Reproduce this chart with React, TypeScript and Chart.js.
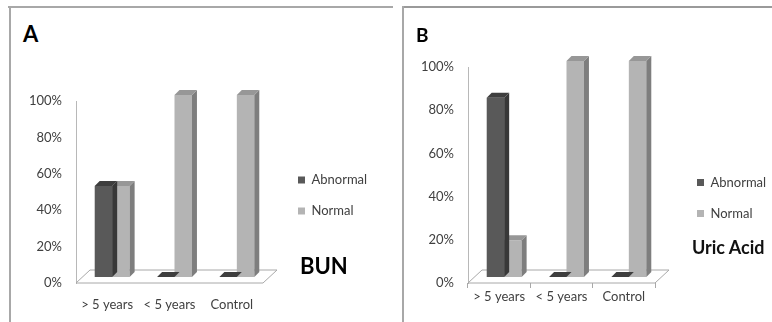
import React, { useEffect, useRef } from "react";
import { Chart, registerables } from "chart.js";

Chart.register(...registerables);

// ---------- data ----------
const categories = ["> 5 years", "< 5 years", "Control"];
const seriesNames = ["Abnormal", "Normal"];
const bunAbnormal = [50, 0, 0];
const bunNormal = [50, 100, 100];
const uricAbnormal = [83, 0, 0];
const uricNormal = [17, 100, 100];
const yTicks = [0, 20, 40, 60, 80, 100];

// ---------- styles ----------
const FONT = "Lato, 'Open Sans', sans-serif";
const frontColors = ["#595959", "#b4b4b4"];
const topColors = ["#3e3e3e", "#979797"];
const sideColors = ["#383838", "#7e7e7e"];
const textColor = "#404040";
const lineGray = "#a8a8a8";

const bar3dPlugin = {
  id: "bar3d",
  beforeDatasetsDraw(chart: any, _args: any, opts: any) {
    const { ctx, chartArea: a } = chart;
    const y0 = chart.scales.y.getPixelForValue(0);
    const [fx, fy] = opts.floorDepth;
    ctx.save();
    ctx.beginPath();
    ctx.moveTo(a.left, y0);
    ctx.lineTo(a.right, y0);
    ctx.lineTo(a.right + fx, y0 + fy);
    ctx.lineTo(a.left + fx, y0 + fy);
    ctx.closePath();
    ctx.fillStyle = "#ffffff";
    ctx.fill();
    ctx.strokeStyle = opts.floorColor;
    ctx.lineWidth = 1;
    ctx.stroke();
    ctx.restore();
    ctx.save();
    ctx.translate(opts.shift[0], opts.shift[1]);
  },
  afterDatasetDraw(chart: any, args: any, opts: any) {
    const { ctx } = chart;
    const i = args.index;
    const [dx, dy] = opts.depth;
    args.meta.data.forEach((bar: any) => {
      const { x, y, base, width } = bar.getProps(["x", "y", "base", "width"], true);
      const l = x - width / 2;
      const r = x + width / 2;
      if (base - y > 0.5) {
        ctx.fillStyle = opts.sideColors[i];
        ctx.beginPath();
        ctx.moveTo(r, y);
        ctx.lineTo(r + dx, y + dy);
        ctx.lineTo(r + dx, base + dy);
        ctx.lineTo(r, base);
        ctx.closePath();
        ctx.fill();
      }
      ctx.fillStyle = opts.topColors[i];
      ctx.beginPath();
      ctx.moveTo(l, y);
      ctx.lineTo(l + dx, y + dy);
      ctx.lineTo(r + dx, y + dy);
      ctx.lineTo(r, y);
      ctx.closePath();
      ctx.fill();
    });
  },
  afterDatasetsDraw(chart: any) {
    chart.ctx.restore();
  },
};

type PanelCfg = {
  left: number;
  top: number;
  w: number;
  h: number;
  abnormal: number[];
  normal: number[];
  yAxisWidth: number;
  xAxisHeight: number;
  padTop: number;
  spacer: number;
  legendWidth: number;
  legendShift: number;
  xTicks: boolean;
};

function makeConfig(c: PanelCfg): any {
  const series = [c.abnormal, c.normal];
  return {
    type: "bar",
    data: {
      labels: categories,
      datasets: seriesNames.map((name, i) => ({
        label: name,
        data: series[i],
        backgroundColor: frontColors[i],
        borderWidth: 0,
        categoryPercentage: 0.56,
        barPercentage: 1,
        clip: false,
        yAxisID: "y",
      })),
    },
    options: {
      responsive: false,
      animation: false,
      devicePixelRatio: 1,
      layout: { padding: { top: c.padTop, left: 0, right: 0, bottom: 0 } },
      scales: {
        x: {
          grid: {
            display: c.xTicks,
            drawOnChartArea: false,
            drawTicks: c.xTicks,
            tickLength: 5,
            color: lineGray,
          },
          border: { display: false },
          ticks: {
            color: textColor,
            font: { family: FONT, size: 13 },
            padding: c.xTicks ? 1 : 14,
            maxRotation: 0,
            autoSkip: false,
          },
          afterFit: (s: any) => {
            s.height = c.xAxisHeight;
          },
        },
        y: {
          min: 0,
          max: 100,
          grid: { display: false, drawTicks: false },
          border: { display: true, color: "#b8b8b8", width: 1 },
          afterBuildTicks: (s: any) => {
            s.ticks = yTicks.map((v) => ({ value: v }));
          },
          ticks: {
            color: textColor,
            font: { family: FONT, size: 13 },
            padding: 14,
            callback: (v: any) => v + "%",
          },
          afterFit: (s: any) => {
            s.width = c.yAxisWidth;
          },
        },
        yR: {
          type: "linear",
          position: "right",
          display: true,
          grid: { display: false, drawTicks: false },
          border: { display: false },
          ticks: { display: false },
          afterFit: (s: any) => {
            s.width = c.spacer;
          },
        },
      },
      plugins: {
        legend: {
          position: "right",
          fullSize: false,
          maxWidth: c.legendWidth,
          title: {
            display: true,
            text: "",
            padding: { top: c.legendShift, bottom: 0 },
            font: { size: 1, lineHeight: 1 },
          },
          labels: {
            boxWidth: 7,
            boxHeight: 7,
            padding: 18,
            color: textColor,
            font: { family: FONT, size: 13 },
          },
        },
        tooltip: { enabled: false },
        bar3d: {
          shift: [5, -6],
          depth: [5, -5],
          floorDepth: [14, -13],
          floorColor: lineGray,
          topColors,
          sideColors,
        },
      },
    },
    plugins: [bar3dPlugin],
  };
}

function BarPanel({ cfg }: { cfg: PanelCfg }) {
  const ref = useRef<HTMLCanvasElement>(null);
  useEffect(() => {
    const chart = new Chart(ref.current as HTMLCanvasElement, makeConfig(cfg));
    return () => chart.destroy();
  }, []);
  return (
    <canvas
      ref={ref}
      width={cfg.w}
      height={cfg.h}
      style={{ position: "absolute", left: cfg.left, top: cfg.top, width: cfg.w, height: cfg.h }}
    />
  );
}

const panelA: PanelCfg = {
  left: 12,
  top: 60,
  w: 358,
  h: 262,
  abnormal: bunAbnormal,
  normal: bunNormal,
  yAxisWidth: 64,
  xAxisHeight: 39,
  padTop: 41,
  spacer: 17,
  legendWidth: 90,
  legendShift: 6,
  xTicks: false,
};

const panelB: PanelCfg = {
  left: 405,
  top: 30,
  w: 364,
  h: 292,
  abnormal: uricAbnormal,
  normal: uricNormal,
  yAxisWidth: 63,
  xAxisHeight: 39,
  padTop: 37,
  spacer: 24,
  legendWidth: 90,
  legendShift: 45,
  xTicks: true,
};

const abs = (o: any): React.CSSProperties => ({ position: "absolute", ...o });

export default function App() {
  return (
    <div
      style={abs({
        position: "fixed",
        left: 0,
        top: 0,
        width: 772,
        height: 322,
        background: "#ffffff",
        overflow: "hidden",
        fontFamily: FONT,
      })}
    >
      {/* panel borders */}
      <div style={abs({ left: 8, top: 6, width: 385, height: 2, background: lineGray })} />
      <div style={abs({ left: 9, top: 6, width: 2, height: 316, background: lineGray })} />
      <div style={abs({ left: 402, top: 6, width: 370, height: 2, background: "#9a9a9a" })} />
      <div style={abs({ left: 402, top: 6, width: 2, height: 316, background: lineGray })} />

      <BarPanel cfg={panelA} />
      <BarPanel cfg={panelB} />

      <div style={abs({ left: 23, top: 23, fontSize: 22, lineHeight: "22px", fontWeight: 700, color: "#000" })}>A</div>
      <div style={abs({ left: 416, top: 25, fontSize: 19, lineHeight: "19px", fontWeight: 700, color: "#000" })}>B</div>
      <div style={abs({ left: 300, top: 255, fontSize: 22, lineHeight: "22px", fontWeight: 700, color: "#000" })}>BUN</div>
      <div style={abs({ left: 692, top: 238, fontSize: 18, lineHeight: "18px", fontWeight: 700, color: "#111" })}>Uric Acid</div>
    </div>
  );
}
